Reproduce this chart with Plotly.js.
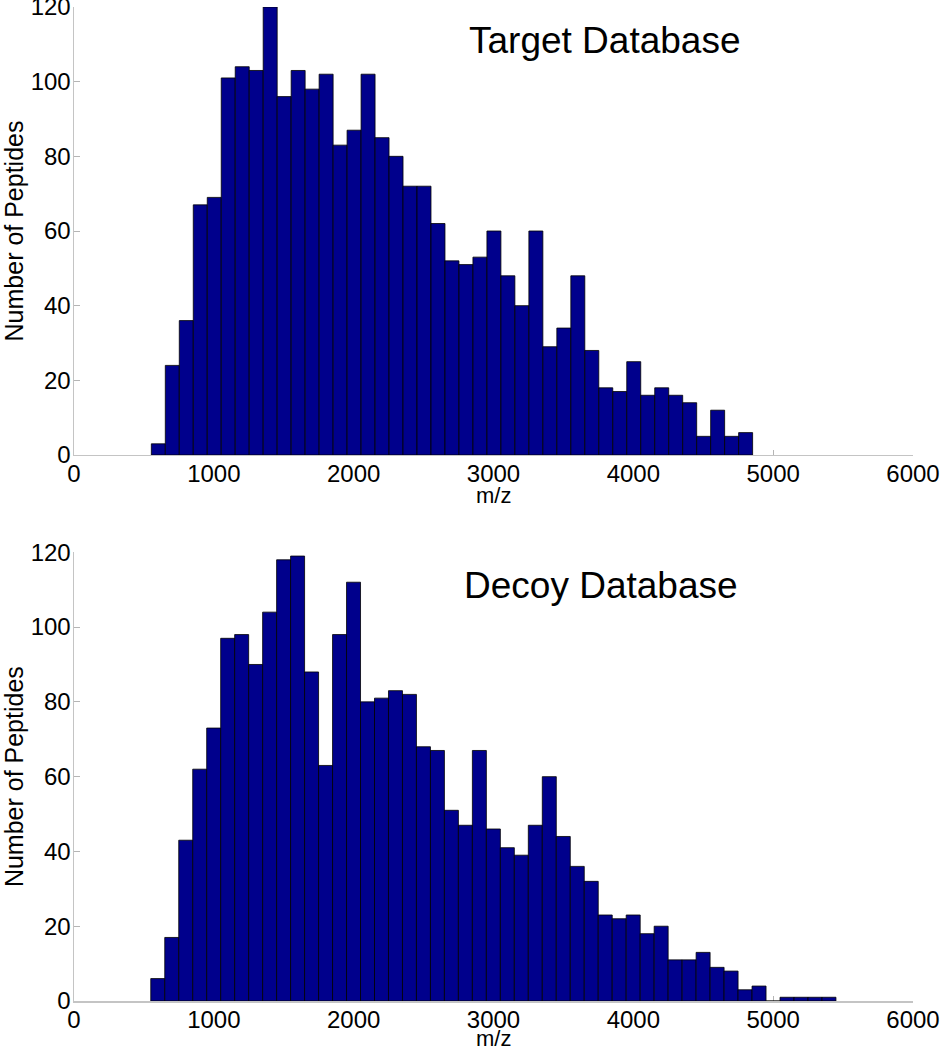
<!DOCTYPE html>
<html>
<head>
<meta charset="utf-8">
<script src="https://cdn.plot.ly/plotly-3.0.1.min.js"></script>
<style>
  html, body { margin: 0; padding: 0; background: #fff; }
  #chart { width: 941px; height: 1050px; }
</style>
</head>
<body>
<div id="chart"></div>
<script>
// bin centres (m/z) and peptide counts
var targetCenters = [603, 703, 803, 903, 1003, 1103, 1203, 1303, 1403, 1503,
    1603, 1703, 1803, 1903, 2003, 2103, 2203, 2303, 2403, 2503,
    2603, 2703, 2803, 2903, 3003, 3103, 3203, 3303, 3403, 3503,
    3603, 3703, 3803, 3903, 4003, 4103, 4203, 4303, 4403, 4503,
    4603, 4703, 4803];
var targetCounts = [3, 24, 36, 67, 69, 101, 104, 103, 120, 96,
    103, 98, 102, 83, 87, 102, 85, 80, 72, 72,
    62, 52, 51, 53, 60, 48, 40, 60, 29, 34,
    48, 28, 18, 17, 25, 16, 18, 16, 14, 5,
    12, 5, 6];

var decoyCenters = [599, 699, 799, 899, 999, 1099, 1199, 1299, 1399, 1499,
    1599, 1699, 1799, 1899, 1999, 2099, 2199, 2299, 2399, 2499,
    2599, 2699, 2799, 2899, 2999, 3099, 3199, 3299, 3399, 3499,
    3599, 3699, 3799, 3899, 3999, 4099, 4199, 4299, 4399, 4499,
    4599, 4699, 4799, 4899, 4999, 5099, 5199, 5299, 5399];
var decoyCounts = [6, 17, 43, 62, 73, 97, 98, 90, 104, 118,
    119, 88, 63, 98, 112, 80, 81, 83, 82, 68,
    67, 51, 47, 67, 46, 41, 39, 47, 60, 44,
    36, 32, 23, 22, 23, 18, 20, 11, 11, 13,
    9, 8, 3, 4, 0, 1, 1, 1, 1];

var binWidth = 100;
var xTicks = [0, 1000, 2000, 3000, 4000, 5000, 6000];
var yTicks = [0, 20, 40, 60, 80, 100, 120];
var titles = ['Target Database', 'Decoy Database'];

var barColor = 'rgb(0,0,140)';
var font = 'Liberation Sans, Arial, Helvetica, sans-serif';

var traces = [
    {
        type: 'bar', x: targetCenters, y: targetCounts, width: binWidth,
        marker: { color: barColor, line: { color: '#000', width: 0.8 } },
        xaxis: 'x', yaxis: 'y', hoverinfo: 'x+y'
    },
    {
        type: 'bar', x: decoyCenters, y: decoyCounts, width: binWidth,
        marker: { color: barColor, line: { color: '#000', width: 0.8 } },
        xaxis: 'x2', yaxis: 'y2', hoverinfo: 'x+y'
    }
];

function xAxis(anchor) {
    return {
        anchor: anchor, range: [0, 6000], tickvals: xTicks,
        ticks: 'inside', ticklen: 5, tickcolor: '#b5b5b5', tickwidth: 1,
        showline: true, linecolor: '#c4c4c4', linewidth: 1.5,
        showgrid: false, zeroline: false, layer: 'below traces',
        ticklabelstandoff: -3, ticklabeloverflow: 'allow',
        tickfont: { family: font, size: 24, color: '#000' }
    };
}

function yAxis(anchor, domain) {
    return {
        anchor: anchor, domain: domain, range: [0, 120], tickvals: yTicks,
        ticks: 'inside', ticklen: 6, tickcolor: '#b5b5b5', tickwidth: 1,
        showline: true, linecolor: '#c4c4c4', linewidth: 1.5,
        showgrid: false, zeroline: false, layer: 'below traces',
        ticklabelstandoff: -3, ticklabeloverflow: 'allow',
        tickfont: { family: font, size: 24, color: '#000' },
        title: { text: 'Number of Peptides', font: { family: font, size: 25, color: '#000' }, standoff: 6 }
    };
}

// the m/z titles sit tight under the tick labels, as in the original
function xTitle(xref, yref, y) {
    return { text: 'm/z', xref: xref, yref: yref, x: 0.5, y: y, xanchor: 'center', yanchor: 'middle',
        showarrow: false, font: { family: font, size: 22, color: '#000' } };
}

var layout = {
    width: 941, height: 1050,
    margin: { l: 74, r: 28, t: 7, b: 49 },
    paper_bgcolor: '#fff', plot_bgcolor: '#fff',
    showlegend: false, bargap: 0,
    xaxis: xAxis('y'),
    yaxis: yAxis('x', [0.5493, 1]),
    xaxis2: xAxis('y2'),
    yaxis2: yAxis('x2', [0, 0.4514]),
    annotations: [
        { text: titles[0], xref: 'x', yref: 'y', x: 2810, y: 111, xanchor: 'left', yanchor: 'middle',
          showarrow: false, font: { family: font, size: 37, color: '#000' } },
        { text: titles[1], xref: 'x2', yref: 'y2', x: 2773, y: 111, xanchor: 'left', yanchor: 'middle',
          showarrow: false, font: { family: font, size: 37, color: '#000' } },
        xTitle('x domain', 'y domain', -0.0893),
        xTitle('x2 domain', 'y2 domain', -0.083)
    ]
};

Plotly.newPlot('chart', traces, layout, { displayModeBar: false, staticPlot: true });
</script>
</body>
</html>
